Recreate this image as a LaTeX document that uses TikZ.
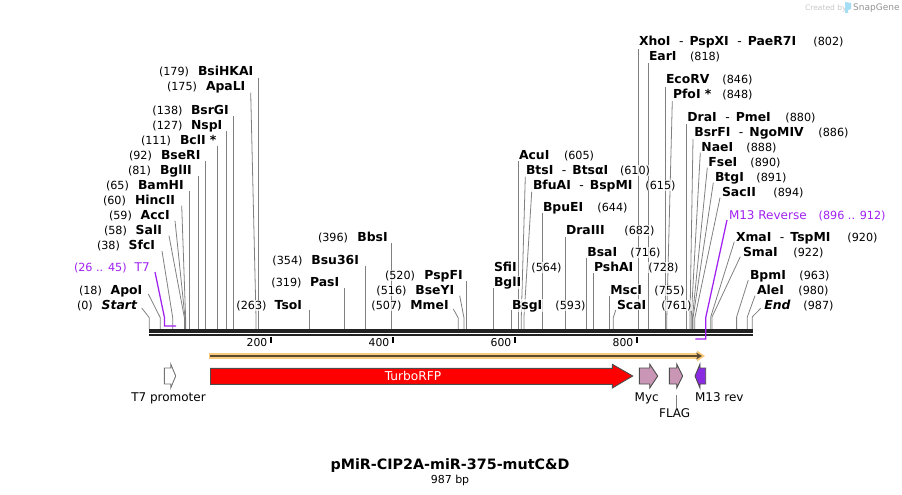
\documentclass[tikz,border=0pt]{standalone}
\usepackage{fontspec}
\setmainfont{DejaVu Sans}
\usetikzlibrary{arrows.meta, positioning, calc}
\definecolor{sitegray}{HTML}{808080}
\definecolor{primerpurple}{HTML}{A020F0}
\definecolor{barblack}{HTML}{222222}
\definecolor{mcsorange}{HTML}{F9CB7D}
\definecolor{mcsbrown}{HTML}{5A4A32}
\definecolor{rfpred}{HTML}{FF0000}
\definecolor{tagpink}{HTML}{C997B5}
\definecolor{revpurple}{HTML}{8A2BE2}
\definecolor{logoblue}{HTML}{A5DDF5}
\newcommand{\sitedash}{\hspace{8.5pt}{\mdseries -}\hspace{6pt}}

\begin{document}
\begin{tikzpicture}[x=1pt, y=-1pt,
    sitename/.style={anchor=base west, inner sep=0.5pt, fill=white, fill opacity=0.7, text opacity=1, font=\fontsize{12.4}{14}\selectfont\bfseries},
    sitepos/.style={anchor=base west, inner sep=0.5pt, fill=white, fill opacity=0.7, text opacity=1, font=\fontsize{11.2}{14}\selectfont},
    primername/.style={anchor=base west, inner sep=0.5pt, text=primerpurple, font=\fontsize{12}{14}\selectfont},
    primerpos/.style={anchor=base west, inner sep=0.5pt, text=primerpurple, font=\fontsize{11.2}{14}\selectfont},
    siteline/.style={draw=sitegray, line width=0.8pt},
    primerline/.style={draw=primerpurple, line width=1.25pt},
    strand/.style={anchor=north west, inner sep=0pt, fill=barblack, minimum width=603.7pt},
    ticklabel/.style={anchor=base east, inner sep=0pt, font=\fontsize{10.8}{13}\selectfont},
    featlabel/.style={anchor=base, inner sep=0pt, font=\fontsize{12}{14}\selectfont},
    feature/.style={draw=black!70, line width=0.9pt},
]
    \useasboundingbox (0, 0) rectangle (902, 495);

    % Logo
    \node[anchor=base west, inner sep=0pt, text=black!22, font=\fontsize{7.5}{9}\selectfont] (createdby) at (805, 10.5) {Created by};
    \node[anchor=base west, inner sep=0pt, text=black!42, font=\fontsize{9}{11}\selectfont] (snapgene) at (853, 11) {SnapGene};
    \fill[logoblue] (845, 2) -- (851, 3) -- (851, 9) -- (848, 10) -- (848, 13) -- (845, 13) -- cycle;

    % Backbone
    \node[strand, minimum height=3.6pt] (topstrand) at (149, 328.8) {};
    \node[strand, minimum height=2.8pt] (botstrand) at (149, 333.4) {};

    % Ruler
    \coordinate (tick200) at (271, 342.5);
    \coordinate (tick400) at (393, 342.5);
    \coordinate (tick600) at (515, 342.5);
    \coordinate (tick800) at (637, 342.5);
    \draw[line width=1.5pt, black] (tick200) -- (tick200 |- botstrand.south);
    \draw[line width=1.5pt, black] (tick400) -- (tick400 |- botstrand.south);
    \draw[line width=1.5pt, black] (tick600) -- (tick600 |- botstrand.south);
    \draw[line width=1.5pt, black] (tick800) -- (tick800 |- botstrand.south);
    \node[ticklabel] (lab200) at (267.5, 346) {200};
    \node[ticklabel] (lab400) at (389.5, 346) {400};
    \node[ticklabel] (lab600) at (511.5, 346) {600};
    \node[ticklabel] (lab800) at (633.5, 346) {800};

    % Site lines, left part
    \coordinate (starttop) at (141.7, 308);   \coordinate (startkink) at (149.3, 317.7);
    \coordinate (apoitop) at (148.3, 294);    \coordinate (apoikink) at (160.3, 317.7);
    \coordinate (sfcitop) at (162, 251);      \coordinate (sfcikink) at (172.7, 317.7);
    \coordinate (salitop) at (169, 235.7);    \coordinate (salikink) at (184.4, 317.7);
    \coordinate (accitop) at (175, 220.7);    \coordinate (accikink) at (185, 317.7);
    \coordinate (hincitop) at (181.7, 205.7); \coordinate (hincikink) at (185.6, 317.7);
    \coordinate (apalitop) at (250.7, 92.7);  \coordinate (apalikink) at (256, 317.7);
    \coordinate (bamhitop) at (189.3, 191);
    \coordinate (bgliitop) at (198.3, 176.3);
    \coordinate (bseritop) at (205.3, 161);
    \coordinate (bclitop) at (217.3, 146.3);
    \coordinate (nspitop) at (226.3, 131);
    \coordinate (bsrgitop) at (233.3, 116);
    \coordinate (bsihkaitop) at (258.3, 78.3);
    \coordinate (tsoitop) at (309.3, 310);
    \coordinate (pasitop) at (344.3, 288.3);
    \coordinate (bsutop) at (365.3, 266);
    \coordinate (bbsitop) at (391.3, 243.3);
    \coordinate (mmeitop) at (453.3, 309);    \coordinate (mmeikink) at (458.3, 318);
    \coordinate (bseyitop) at (459.7, 295.7); \coordinate (bseyikink) at (464, 318);
    \coordinate (pspfitop) at (466.3, 281);
    \draw[siteline] (starttop) -- (startkink) -- (startkink |- topstrand.north);
    \draw[siteline] (apoitop) -- (apoikink) -- (apoikink |- topstrand.north);
    \draw[siteline] (sfcitop) -- (sfcikink) -- (sfcikink |- topstrand.north);
    \draw[siteline] (salitop) -- (salikink) -- (salikink |- topstrand.north);
    \draw[siteline] (accitop) -- (accikink) -- (accikink |- topstrand.north);
    \draw[siteline] (hincitop) -- (hincikink) -- (hincikink |- topstrand.north);
    \draw[siteline] (apalitop) -- (apalikink) -- (apalikink |- topstrand.north);
    \draw[siteline] (bamhitop) -- (bamhitop |- topstrand.north);
    \draw[siteline] (bgliitop) -- (bgliitop |- topstrand.north);
    \draw[siteline] (bseritop) -- (bseritop |- topstrand.north);
    \draw[siteline] (bclitop) -- (bclitop |- topstrand.north);
    \draw[siteline] (nspitop) -- (nspitop |- topstrand.north);
    \draw[siteline] (bsrgitop) -- (bsrgitop |- topstrand.north);
    \draw[siteline] (bsihkaitop) -- (bsihkaitop |- topstrand.north);
    \draw[siteline] (tsoitop) -- (tsoitop |- topstrand.north);
    \draw[siteline] (pasitop) -- (pasitop |- topstrand.north);
    \draw[siteline] (bsutop) -- (bsutop |- topstrand.north);
    \draw[siteline] (bbsitop) -- (bbsitop |- topstrand.north);
    \draw[siteline] (mmeitop) -- (mmeikink) -- (mmeikink |- topstrand.north);
    \draw[siteline] (bseyitop) -- (bseyikink) -- (bseyikink |- topstrand.north);
    \draw[siteline] (pspfitop) -- (pspfitop |- topstrand.north);

    % Site lines, right part
    \coordinate (bgltop) at (493.3, 288.3);
    \coordinate (bsgitop) at (511.3, 310);
    \coordinate (acuitop) at (518.3, 160.7);
    \coordinate (btsitop) at (525.3, 176.7);  \coordinate (btsikink) at (521.3, 316.7);
    \coordinate (bfuaitop) at (531.7, 191.7); \coordinate (bfuaikink) at (524, 316.7);
    \coordinate (bpueitop) at (542.3, 213.3);
    \coordinate (draiiitop) at (565.3, 236.7);
    \coordinate (bsaitop) at (586.7, 258.3);
    \coordinate (pshaitop) at (593.3, 273.3);
    \coordinate (mscitop) at (609.7, 296);
    \coordinate (scaitop) at (615.7, 310);    \coordinate (scaikink) at (613.3, 317.7);
    \coordinate (xhoitop) at (638.7, 49);
    \coordinate (earitop) at (648.3, 63.3);
    \coordinate (ecorvtop) at (665.7, 86.7);
    \coordinate (pfoitop) at (672.3, 101);    \coordinate (pfoikink) at (666.8, 316.7);
    \coordinate (draitop) at (686.7, 124);
    \coordinate (bsrfitop) at (693, 139);     \coordinate (bsrfikink) at (690, 318);
    \coordinate (naeitop) at (700.3, 152.7);  \coordinate (naeikink) at (691.2, 318);
    \coordinate (fseitop) at (707.3, 167.7);  \coordinate (fseikink) at (692.4, 318);
    \coordinate (btgitop) at (713.3, 182.7);  \coordinate (btgikink) at (693, 318);
    \coordinate (saciitop) at (720, 197.7);   \coordinate (saciikink) at (694.8, 318);
    \coordinate (xmaitop) at (734.3, 241.7);  \coordinate (xmaikink) at (710.7, 317);
    \coordinate (smaitop) at (740.3, 256.7);  \coordinate (smaikink) at (712, 317);
    \coordinate (bpmitop) at (748.3, 280);    \coordinate (bpmikink) at (736.6, 317);
    \coordinate (aleitop) at (755, 295.7);    \coordinate (aleikink) at (747.3, 317);
    \coordinate (endtop) at (760.7, 308.3);   \coordinate (endkink) at (752.2, 317);
    \draw[siteline] (bgltop) -- (bgltop |- topstrand.north);
    \draw[siteline] (bsgitop) -- (bsgitop |- topstrand.north);
    \draw[siteline] (acuitop) -- (acuitop |- topstrand.north);
    \draw[siteline] (btsitop) -- (btsikink) -- (btsikink |- topstrand.north);
    \draw[siteline] (bfuaitop) -- (bfuaikink) -- (bfuaikink |- topstrand.north);
    \draw[siteline] (bpueitop) -- (bpueitop |- topstrand.north);
    \draw[siteline] (draiiitop) -- (draiiitop |- topstrand.north);
    \draw[siteline] (bsaitop) -- (bsaitop |- topstrand.north);
    \draw[siteline] (pshaitop) -- (pshaitop |- topstrand.north);
    \draw[siteline] (mscitop) -- (mscitop |- topstrand.north);
    \draw[siteline] (scaitop) -- (scaikink) -- (scaikink |- topstrand.north);
    \draw[siteline] (xhoitop) -- (xhoitop |- topstrand.north);
    \draw[siteline] (earitop) -- (earitop |- topstrand.north);
    \draw[siteline] (ecorvtop) -- (ecorvtop |- topstrand.north);
    \draw[siteline] (pfoitop) -- (pfoikink) -- (pfoikink |- topstrand.north);
    \draw[siteline] (draitop) -- (draitop |- topstrand.north);
    \draw[siteline] (bsrfitop) -- (bsrfikink) -- (bsrfikink |- topstrand.north);
    \draw[siteline] (naeitop) -- (naeikink) -- (naeikink |- topstrand.north);
    \draw[siteline] (fseitop) -- (fseikink) -- (fseikink |- topstrand.north);
    \draw[siteline] (btgitop) -- (btgikink) -- (btgikink |- topstrand.north);
    \draw[siteline] (saciitop) -- (saciikink) -- (saciikink |- topstrand.north);
    \draw[siteline] (xmaitop) -- (xmaikink) -- (xmaikink |- topstrand.north);
    \draw[siteline] (smaitop) -- (smaikink) -- (smaikink |- topstrand.north);
    \draw[siteline] (bpmitop) -- (bpmikink) -- (bpmikink |- topstrand.north);
    \draw[siteline] (aleitop) -- (aleikink) -- (aleikink |- topstrand.north);
    \draw[siteline] (endtop) -- (endkink) -- (endkink |- topstrand.north);

    % Primer sites
    \coordinate (t7top) at (155, 272);
    \coordinate (t7kink) at (164.5, 317.7);
    \coordinate (t7corner) at (164.5, 326);
    \coordinate (t7end) at (176.2, 326);
    \draw[primerline] (t7top) -- (t7kink) -- (t7corner) -- (t7end);
    \coordinate (m13top) at (727, 220);
    \coordinate (m13kink) at (705.8, 317.3);
    \coordinate (m13corner) at (705.8, 339);
    \coordinate (m13end) at (695.4, 339);
    \draw[primerline] (m13top) -- (m13kink) -- (m13corner) -- (m13end);

    % Labels, left part
    \node[sitepos] (bsihkaipos) at (158.3, 76) {(179)};
    \node[sitename] (bsihkai) at (197.3, 76) {BsiHKAI};
    \node[sitepos] (apalipos) at (166.3, 91) {(175)};
    \node[sitename] (apali) at (205.3, 91) {ApaLI};
    \node[sitepos] (bsrgipos) at (151.7, 114) {(138)};
    \node[sitename] (bsrgi) at (190.3, 114) {BsrGI};
    \node[sitepos] (nspipos) at (151.7, 129) {(127)};
    \node[sitename] (nspi) at (190.3, 129) {NspI};
    \node[sitepos] (bclipos) at (140.3, 144) {(111)};
    \node[sitename] (bcli) at (179.3, 144) {BclI *};
    \node[sitepos] (bseripos) at (128.3, 159) {(92)};
    \node[sitename] (bseri) at (160.3, 159) {BseRI};
    \node[sitepos] (bgliipos) at (127.3, 174) {(81)};
    \node[sitename] (bglii) at (159.3, 174) {BglII};
    \node[sitepos] (bamhipos) at (105.3, 189) {(65)};
    \node[sitename] (bamhi) at (137.3, 189) {BamHI};
    \node[sitepos] (hincipos) at (102.3, 204) {(60)};
    \node[sitename] (hinci) at (134.3, 204) {HincII};
    \node[sitepos] (accipos) at (108.3, 219) {(59)};
    \node[sitename] (acci) at (140, 219) {AccI};
    \node[sitepos] (salipos) at (103.3, 234) {(58)};
    \node[sitename] (sali) at (135, 234) {SalI};
    \node[sitepos] (sfcipos) at (96.3, 249) {(38)};
    \node[sitename] (sfci) at (128, 249) {SfcI};
    \node[primerpos] (t7pos) at (73.3, 271) {(26 .. 45)};
    \node[primername] (t7) at (134, 271) {T7};
    \node[sitepos] (apoipos) at (78.3, 294) {(18)};
    \node[sitename] (apoi) at (110, 294) {ApoI};
    \node[sitepos] (startpos) at (76.3, 309) {(0)};
    \node[sitename, font=\fontsize{12.4}{14}\selectfont\bfseries\itshape] (startlab) at (101, 309) {Start};
    \node[sitepos] (tsoipos) at (235.7, 309) {(263)};
    \node[sitename] (tsoi) at (274, 309) {TsoI};
    \node[sitepos] (pasipos) at (270.7, 286) {(319)};
    \node[sitename] (pasi) at (309.3, 286) {PasI};
    \node[sitepos] (bsupos) at (271.7, 264) {(354)};
    \node[sitename] (bsu) at (310.7, 264) {Bsu36I};
    \node[sitepos] (bbsipos) at (317.3, 241) {(396)};
    \node[sitename] (bbsi) at (356.7, 241) {BbsI};
    \node[sitepos] (pspfipos) at (384.3, 279) {(520)};
    \node[sitename] (pspfi) at (423.7, 279) {PspFI};
    \node[sitepos] (bseyipos) at (375.7, 294) {(516)};
    \node[sitename] (bseyi) at (414.7, 294) {BseYI};
    \node[sitepos] (mmeipos) at (370.7, 309) {(507)};
    \node[sitename] (mmei) at (409.7, 309) {MmeI};

    % Labels, right part
    \node[sitename] (sfii) at (493.3, 271) {SfiI};
    \node[sitepos] (sfiipos) at (530.7, 271) {(564)};
    \node[sitename] (bgli) at (493.3, 286) {BglI};
    \node[sitename] (bsgi) at (511.3, 309) {BsgI};
    \node[sitepos] (bsgipos) at (554.7, 309) {(593)};
    \node[sitename] (acui) at (518.3, 159) {AcuI};
    \node[sitepos] (acuipos) at (563.3, 159) {(605)};
    \node[sitename] (btsi) at (525.3, 174) {BtsI\sitedash BtsαI};
    \node[sitepos] (btsipos) at (619.3, 174) {(610)};
    \node[sitename] (bfuai) at (532.3, 189) {BfuAI\sitedash BspMI};
    \node[sitepos] (bfuaipos) at (644.7, 189) {(615)};
    \node[sitename] (bpuei) at (542.3, 211) {BpuEI};
    \node[sitepos] (bpueipos) at (596.7, 211) {(644)};
    \node[sitename] (draiii) at (565.3, 234) {DraIII};
    \node[sitepos] (draiiipos) at (623.7, 234) {(682)};
    \node[sitename] (bsai) at (586.7, 256) {BsaI};
    \node[sitepos] (bsaipos) at (629.7, 256) {(716)};
    \node[sitename] (pshai) at (593.3, 271) {PshAI};
    \node[sitepos] (pshaipos) at (647.7, 271) {(728)};
    \node[sitename] (msci) at (609.7, 294) {MscI};
    \node[sitepos] (mscipos) at (653.7, 294) {(755)};
    \node[sitename] (scai) at (616.3, 309) {ScaI};
    \node[sitepos] (scaipos) at (660.7, 309) {(761)};
    \node[sitename] (xhoi) at (638.3, 46) {XhoI\sitedash PspXI\sitedash PaeR7I};
    \node[sitepos] (xhoipos) at (812.7, 46) {(802)};
    \node[sitename] (eari) at (648.3, 61) {EarI};
    \node[sitepos] (earipos) at (689.3, 61) {(818)};
    \node[sitename] (ecorv) at (665.3, 84) {EcoRV};
    \node[sitepos] (ecorvpos) at (721.7, 84) {(846)};
    \node[sitename] (pfoi) at (672.3, 99) {PfoI *};
    \node[sitepos] (pfoipos) at (721.7, 99) {(848)};
    \node[sitename] (drai) at (686.7, 121) {DraI\sitedash PmeI};
    \node[sitepos] (draipos) at (784.7, 121) {(880)};
    \node[sitename] (bsrfi) at (693.7, 136) {BsrFI\sitedash NgoMIV};
    \node[sitepos] (bsrfipos) at (817.7, 136) {(886)};
    \node[sitename] (naei) at (700.7, 151) {NaeI};
    \node[sitepos] (naeipos) at (745.7, 151) {(888)};
    \node[sitename] (fsei) at (707.7, 166) {FseI};
    \node[sitepos] (fseipos) at (749.7, 166) {(890)};
    \node[sitename] (btgi) at (714.3, 181) {BtgI};
    \node[sitepos] (btgipos) at (755.7, 181) {(891)};
    \node[sitename] (sacii) at (721.3, 196) {SacII};
    \node[sitepos] (saciipos) at (772.7, 196) {(894)};
    \node[primername] (m13) at (728.3, 219) {M13 Reverse};
    \node[primerpos] (m13pos) at (818, 219) {(896 .. 912)};
    \node[sitename] (xmai) at (735.3, 241) {XmaI\sitedash TspMI};
    \node[sitepos] (xmaipos) at (846.7, 241) {(920)};
    \node[sitename] (smai) at (742.3, 256) {SmaI};
    \node[sitepos] (smaipos) at (792.7, 256) {(922)};
    \node[sitename] (bpmi) at (749.3, 279) {BpmI};
    \node[sitepos] (bpmipos) at (798.7, 279) {(963)};
    \node[sitename] (alei) at (756.3, 294) {AleI};
    \node[sitepos] (aleipos) at (797.7, 294) {(980)};
    \node[sitename, font=\fontsize{12.4}{14}\selectfont\bfseries\itshape] (endlab) at (763.7, 309) {End};
    \node[sitepos] (endpos) at (802.7, 309) {(987)};

    % Orange span
    \draw[mcsorange, line width=6.5pt] (209, 356) -- (698, 356);
    \fill[mcsorange] (697, 350.5) -- (705, 356) -- (697, 361.5) -- cycle;
    \coordinate (spanstart) at (210, 356);
    \coordinate (spanend) at (702, 356);
    \draw[mcsbrown, line width=1.9pt, -{Stealth[length=6pt, width=7pt]}] (spanstart) -- (spanend);

    % Features
    \draw[feature, fill=white, draw=black!55] (164.3, 368) -- (170.7, 368) -- (170.7, 364) -- (175.7, 376) -- (170.7, 388) -- (170.7, 384) -- (164.3, 384) -- cycle;
    \draw[feature, fill=rfpred] (210.5, 368.3) -- (612.3, 368.3) -- (612.3, 364.3) -- (632.7, 376) -- (612.3, 388) -- (612.3, 384.3) -- (210.5, 384.3) -- cycle;
    \draw[feature, fill=tagpink] (639.3, 368) -- (649.7, 368) -- (649.7, 364) -- (657.7, 376) -- (649.7, 388) -- (649.7, 384) -- (639.3, 384) -- cycle;
    \draw[feature, fill=tagpink] (669.3, 368) -- (676.7, 368) -- (676.7, 364) -- (682.7, 376) -- (676.7, 388) -- (676.7, 384) -- (669.3, 384) -- cycle;
    \draw[feature, fill=revpurple] (705.7, 368) -- (700, 368) -- (700, 364) -- (695, 376) -- (700, 388) -- (700, 384) -- (705.7, 384) -- cycle;

    \node[inner sep=0pt, text=white, font=\fontsize{12.2}{14}\selectfont] (turborfp) at (413, 376) {TurboRFP};
    \node[featlabel] (t7prom) at (168.5, 401.5) {T7 promoter};
    \node[featlabel] (myc) at (646.7, 401.5) {Myc};
    \node[featlabel] (flag) at (674.7, 417.5) {FLAG};
    \node[featlabel] (m13rev) at (719.3, 401.5) {M13 rev};
    \coordinate (flagtop) at (676.3, 395);
    \draw[siteline] (flagtop) -- (flagtop |- flag.north);

    % Title
    \node[anchor=base, inner sep=0pt, font=\fontsize{14.3}{17}\selectfont\bfseries] (title) at (450, 469) {pMiR-CIP2A-miR-375-mutC\&D};
    \node[anchor=base, inner sep=0pt, font=\fontsize{11}{13}\selectfont, below=3pt of title] (bplab) {987 bp};

\end{tikzpicture}
\end{document}
